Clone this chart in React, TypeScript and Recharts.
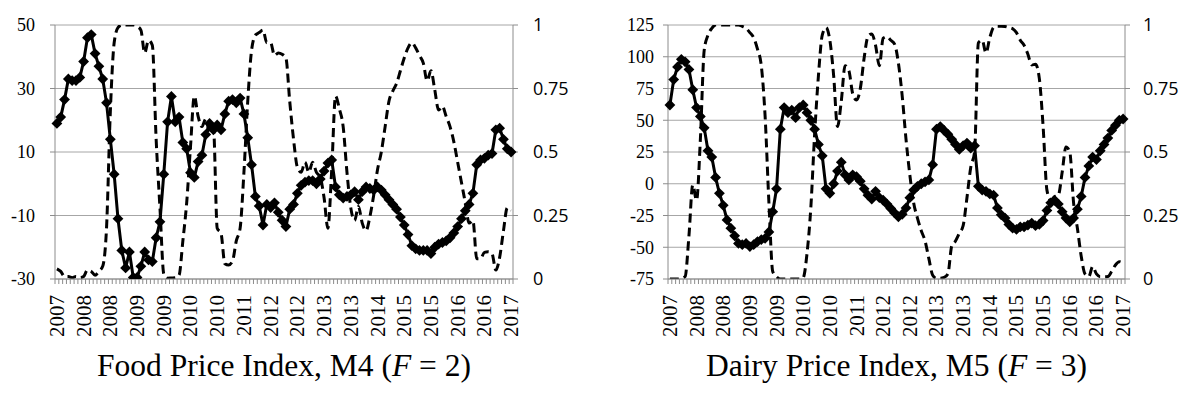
import React from 'react';
import { LineChart, Line, XAxis, YAxis, CartesianGrid } from 'recharts';

// ---- categories: monthly, June 2007 .. May 2017 ----
const START_YEAR = 2007;
const START_MONTH = 6;
const MONTH_COUNT = 120;
const LABEL_EVERY = 7;
const PERIODS: string[] = Array.from({ length: MONTH_COUNT }, (_, i) => {
  const m = START_MONTH - 1 + i;
  return `${START_YEAR + Math.floor(m / 12)}-${String((m % 12) + 1).padStart(2, '0')}`;
});

// ---- Food Price Index, M4 ----
const FOOD_INDEX: number[] = [
  19, 21, 26.5, 33, 32.5, 32.5, 33.5, 38.5, 46, 47,
  41, 37, 33, 25.5, 14, 3, -11, -21, -26.5, -21.5,
  -29.5, -29.5, -26, -21.5, -24, -24.5, -17, -12, 3, 19.5,
  27.5, 19.5, 21, 13, 11, 3.5, 2, 7, 9, 15.5,
  19, 17, 18.5, 17, 22, 26, 26.5, 25.5, 27, 22,
  14.5, 6, -4, -7, -13, -6.5, -7.5, -6, -9, -11.5,
  -13.5, -8, -6.5, -3, -0.5, 0.5, 1, 1, 0, 1.5,
  4, 6.5, 7.5, -1, -3.5, -4.5, -4, -3.5, -2.5, -5,
  -2.5, -1, -1.5, -2, -1, -2, -3.5, -5, -6.5, -8,
  -10.5, -13, -16, -19.5, -20.5, -21, -21, -21, -22, -20,
  -19, -18.5, -18, -17, -15.5, -13.5, -11, -8.5, -6.5, -3,
  6, 7.5, 8, 9, 9.5, 17, 17.5, 14, 11, 10,
];
const FOOD_PROB: number[] = [
  0.04, 0.03, 0.01, 0.01, 0.005, 0.01, 0.005, 0.01, 0.035, 0.03,
  0.015, 0.03, 0.05, 0.2, 0.66, 0.93, 0.99, 1, 1, 1,
  1, 0.995, 0.98, 0.89, 0.94, 0.92, 0.55, 0.28, 0.02, 0.003,
  0.004, 0.005, 0.015, 0.15, 0.3, 0.52, 0.72, 0.64, 0.6, 0.63,
  0.58, 0.6, 0.2, 0.18, 0.06, 0.055, 0.07, 0.15, 0.2, 0.42,
  0.7, 0.9, 0.96, 0.97, 0.98, 0.93, 0.93, 0.88, 0.89, 0.885,
  0.87, 0.7, 0.55, 0.44, 0.42, 0.46, 0.42, 0.46, 0.42, 0.4,
  0.32, 0.2, 0.43, 0.72, 0.67, 0.6, 0.42, 0.28, 0.23, 0.285,
  0.22, 0.19, 0.245, 0.33, 0.43, 0.5, 0.6, 0.7, 0.74, 0.77,
  0.82, 0.87, 0.91, 0.93, 0.91, 0.88, 0.85, 0.78, 0.82, 0.745,
  0.665, 0.68, 0.64, 0.6, 0.54, 0.46, 0.38, 0.3, 0.22, 0.23,
  0.08, 0.08, 0.105, 0.107, 0.1, 0.035, 0.085, 0.19, 0.28, 0.27,
];

// ---- Dairy Price Index, M5 ----
const DAIRY_INDEX: number[] = [
  62, 82, 92, 98, 96, 90, 74, 60, 53, 44,
  26, 21, 5, -7.5, -17, -28.5, -35, -41, -47, -48,
  -47, -49.5, -48, -45.5, -44, -43, -38, -22, -4, 43,
  60, 56, 58, 52, 60, 62, 56, 50, 43, 31,
  22, -4, -7.5, 0, 10, 17, 7, 3, 7, 5.5,
  2, -4, -9, -12, -6, -11, -13, -16, -19.5, -23,
  -26, -24, -19, -11, -5, -2, 0, 1.5, 3, 15,
  43, 45, 42, 39, 35, 31, 27, 30, 32, 28,
  30, -2, -5, -6, -8, -9, -19, -24.5, -27, -32,
  -35, -36, -34, -34, -32.5, -31, -33, -32, -29, -21,
  -15, -13, -16, -22, -27, -30, -27, -20, -10, 5,
  14, 21, 19, 26, 31, 36, 42, 46, 50, 51,
];
const DAIRY_PROB: number[] = [
  0, 0, 0, 0.002, 0.01, 0.17, 0.37, 0.31, 0.55, 0.9,
  0.96, 0.987, 1, 1, 1, 1, 1, 1, 1, 0.995,
  0.987, 0.97, 0.95, 0.905, 0.84, 0.64, 0.3, 0.03, 0.009, 0,
  0, 0, 0, 0, 0, 0.005, 0.1, 0.28, 0.57, 0.8,
  0.96, 0.99, 0.94, 0.8, 0.6, 0.7, 0.84, 0.82, 0.73, 0.705,
  0.75, 0.87, 0.955, 0.965, 0.92, 0.84, 0.948, 0.954, 0.94, 0.925,
  0.85, 0.72, 0.55, 0.41, 0.3, 0.24, 0.19, 0.15, 0.08, 0.015,
  0.003, 0.003, 0.006, 0.02, 0.13, 0.15, 0.18, 0.21, 0.32, 0.44,
  0.5, 0.93, 0.94, 0.89, 0.95, 0.99, 0.995, 0.995, 0.994, 0.99,
  0.985, 0.97, 0.94, 0.92, 0.885, 0.843, 0.845, 0.79, 0.6, 0.35,
  0.31, 0.324, 0.33, 0.42, 0.52, 0.5, 0.3, 0.2, 0.09, 0.02,
  0.01, 0.049, 0.02, 0.009, 0.009, 0.01, 0.03, 0.055, 0.068, 0.062,
];

const FOOD_TICKS = [-30, -10, 10, 30, 50];
const DAIRY_TICKS = [-75, -50, -25, 0, 25, 50, 75, 100, 125];
const PROB_TICKS = [0, 0.25, 0.5, 0.75, 1];

const SERIF = '"Liberation Serif", "Times New Roman", serif';
const SANS = '"Open Sans", "Noto Sans", sans-serif';
const AXIS = '#8c8c8c';
const GRID = '#a6a6a6';

const CHART_W = 590;
const CHART_H = 345;
const PLOT_TOP = 25;
const PLOT_BOTTOM = 279;

const renderDiamond = (p: any) => {
  const { cx, cy, index } = p;
  if (cx == null || cy == null) return <g key={`e${index}`} />;
  const r = 5.4;
  return (
    <polygon
      key={`d${index}`}
      points={`${cx},${cy - r} ${cx + r},${cy} ${cx},${cy + r} ${cx - r},${cy}`}
      fill="#000"
    />
  );
};

// Category tick: a minor tick mark on each category boundary, year label every 7th month
const makeMonthTick = (step: number) => (p: any) => {
  const { x, y, payload, index } = p;
  const half = step / 2;
  const ly = y + 16;
  return (
    <g key={`t${index}`}>
      <line x1={x - half} y1={y} x2={x - half} y2={y + 5} stroke={AXIS} strokeWidth={1} />
      {index === MONTH_COUNT - 1 && (
        <line x1={x + half} y1={y} x2={x + half} y2={y + 5} stroke={AXIS} strokeWidth={1} />
      )}
      {index % LABEL_EVERY === 0 && (
        <text
          x={x}
          y={ly}
          transform={`rotate(-90, ${x}, ${ly})`}
          textAnchor="end"
          dominantBaseline="central"
          fontFamily={SERIF}
          fontSize={21}
          fill="#000"
        >
          {String(payload.value).slice(0, 4)}
        </text>
      )}
    </g>
  );
};

type PanelProps = {
  index: number[];
  prob: number[];
  yTicks: number[];
  leftWidth: number;
  rightWidth: number;
  leftTickMargin: number;
  rightTickMargin: number;
};

function Panel({ index, prob, yTicks, leftWidth, rightWidth, leftTickMargin, rightTickMargin }: PanelProps) {
  const data = PERIODS.map((period, i) => ({ period, idx: index[i], prob: prob[i] }));
  const plotW = CHART_W - leftWidth - rightWidth;
  const step = plotW / MONTH_COUNT;
  const pad = step / 2;
  return (
    <LineChart
      width={CHART_W}
      height={CHART_H}
      data={data}
      margin={{ top: PLOT_TOP, right: 0, bottom: 0, left: 0 }}
    >
      <CartesianGrid yAxisId="l" vertical={false} stroke={GRID} strokeWidth={1} />
      <XAxis
        dataKey="period"
        type="category"
        interval={0}
        tickLine={false}
        axisLine={{ stroke: AXIS }}
        tickSize={0}
        tickMargin={0}
        height={CHART_H - PLOT_BOTTOM}
        padding={{ left: pad, right: pad }}
        tick={makeMonthTick(step)}
      />
      <YAxis
        yAxisId="l"
        domain={[yTicks[0], yTicks[yTicks.length - 1]]}
        ticks={yTicks}
        interval={0}
        allowDataOverflow
        width={leftWidth}
        tickSize={5}
        tickMargin={leftTickMargin}
        tickLine={{ stroke: AXIS }}
        axisLine={{ stroke: AXIS }}
        tick={{ fill: '#000', fontFamily: SERIF, fontSize: 18 }}
      />
      <YAxis
        yAxisId="r"
        orientation="right"
        domain={[0, 1]}
        ticks={PROB_TICKS}
        interval={0}
        allowDataOverflow
        width={rightWidth}
        tickSize={5}
        tickMargin={rightTickMargin}
        tickLine={{ stroke: AXIS }}
        axisLine={{ stroke: AXIS }}
        tick={{ fill: '#000', fontFamily: SANS, fontSize: 18, textAnchor: 'start' }}
        tickFormatter={(v: number) => String(v)}
      />
      <Line
        yAxisId="r"
        dataKey="prob"
        type="monotone"
        stroke="#000"
        strokeWidth={3}
        strokeDasharray="9 5"
        dot={false}
        activeDot={false}
        isAnimationActive={false}
      />
      <Line
        yAxisId="l"
        dataKey="idx"
        type="linear"
        stroke="#000"
        strokeWidth={3}
        dot={renderDiamond}
        activeDot={false}
        isAnimationActive={false}
      />
    </LineChart>
  );
}

const captionStyle: React.CSSProperties = {
  position: 'absolute',
  top: 350,
  fontFamily: SERIF,
  fontSize: 31.5,
  lineHeight: '32px',
  textAlign: 'center',
  color: '#000',
  whiteSpace: 'nowrap',
};

export default function App() {
  return (
    <div style={{ position: 'absolute', left: 0, top: 0, width: 1180, height: 394, background: '#fff', overflow: 'hidden' }}>
      <div style={{ position: 'absolute', left: 0, top: 0 }}>
        <Panel
          index={FOOD_INDEX}
          prob={FOOD_PROB}
          yTicks={FOOD_TICKS}
          leftWidth={55}
          rightWidth={77}
          leftTickMargin={15}
          rightTickMargin={15}
        />
      </div>
      <div style={{ position: 'absolute', left: 590, top: 0 }}>
        <Panel
          index={DAIRY_INDEX}
          prob={DAIRY_PROB}
          yTicks={DAIRY_TICKS}
          leftWidth={78}
          rightWidth={55}
          leftTickMargin={9}
          rightTickMargin={13}
        />
      </div>
      <div style={{ ...captionStyle, left: 55, width: 458 }}>
        Food Price Index, M4 (<i>F</i> = 2)
      </div>
      <div style={{ ...captionStyle, left: 668, width: 457 }}>
        Dairy Price Index, M5 (<i>F</i> = 3)
      </div>
    </div>
  );
}
